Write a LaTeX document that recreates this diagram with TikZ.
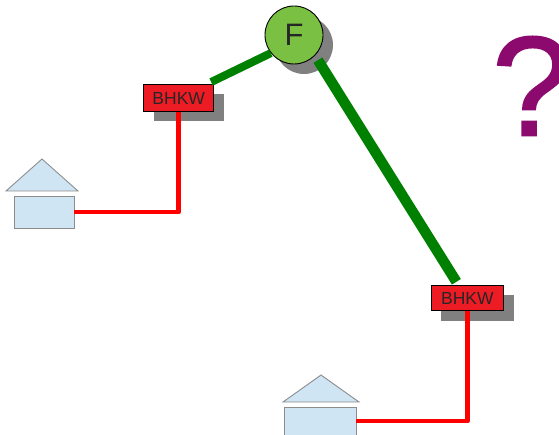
\documentclass[tikz,border=0pt]{standalone}
\usepackage{fontspec}
\setmainfont{Liberation Sans}
\newfontfamily\askfont[FakeBold=1.3]{Liberation Sans}
\usetikzlibrary{shadows}

\definecolor{boxred}{HTML}{ED1C24}
\definecolor{ballgreen}{HTML}{7AC143}
\definecolor{gasgreen}{HTML}{008000}
\definecolor{houseblue}{HTML}{CFE5F3}
\definecolor{housegray}{HTML}{8C8C8C}
\definecolor{askpurple}{HTML}{8C0A6E}

\tikzset{
    offshadow/.style={drop shadow={shadow xshift=10pt,shadow yshift=-10pt,fill=black!50,opacity=1}},
    plantbox/.style={draw=black,line width=0.9pt,fill=boxred,text=black!85,inner sep=0pt,
	font=\fontsize{17.5}{17.5}\selectfont,offshadow},
    fuelball/.style={circle,draw=black,line width=0.9pt,fill=ballgreen,text=black!85,inner sep=0pt,
	minimum size=58pt,font=\fontsize{31}{31}\selectfont,offshadow},
    housebody/.style={draw=housegray,line width=0.9pt,fill=houseblue,inner sep=0pt},
    houseroof/.style={draw=housegray,line width=0.9pt,fill=houseblue},
    gasline/.style={draw=gasgreen,line width=8pt},
    gasmain/.style={draw=gasgreen,line width=10.5pt},
    powerline/.style={draw=red,line width=4.6pt,line join=round}
}

\begin{document}
\begin{tikzpicture}[x=1pt,y=-1pt]
\useasboundingbox (0,0) rectangle (559,435);

\node[fuelball] (F) at (294,35) {F};
\node[plantbox,minimum width=70pt,minimum height=27pt] (bhkwA) at (178.7,98) {BHKW};
\node[plantbox,minimum width=72.5pt,minimum height=25.5pt] (bhkwB) at (467.4,298) {BHKW};

\node[housebody,minimum width=60pt,minimum height=32pt] (houseA) at (44,212) {};
\node[housebody,minimum width=72pt,minimum height=28pt] (houseB) at (320,421) {};
\draw[houseroof] (6,191) -- (42,159) -- (78,191) -- cycle;
\draw[houseroof] (283,402) -- (321,375) -- (359,402) -- cycle;

\draw[gasline] ([xshift=-3pt,yshift=2pt]bhkwA.north east) -- (F.218);
\draw[gasmain] ([xshift=3.5pt,yshift=-4pt]F.-46) -- ([xshift=-11pt,yshift=3pt]bhkwB.north);

\draw[powerline] (houseA.east) -| (bhkwA.south);
\draw[powerline] (houseB.east) -| (bhkwB.south);

\node[text=askpurple,font=\askfont\fontsize{142}{142}\selectfont,inner sep=0pt] (ask) at (531.5,86) {?};
\end{tikzpicture}
\end{document}
